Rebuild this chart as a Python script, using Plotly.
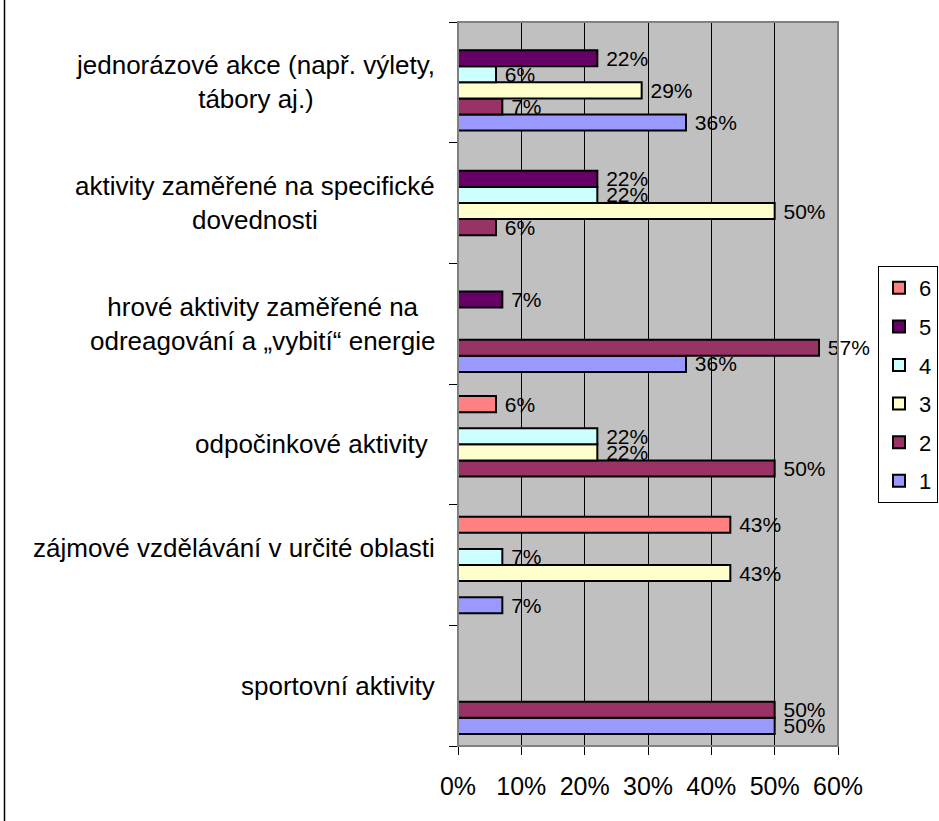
import plotly.graph_objects as go

categories = [
    "sportovní aktivity",
    "zájmové vzdělávání v určité oblasti",
    "odpočinkové aktivity",
    "hrové aktivity zaměřené na odreagování a „vybití“ energie",
    "aktivity zaměřené na specifické dovednosti",
    "jednorázové akce (např. výlety, tábory aj.)",
]
category_labels = [
    "sportovní aktivity",
    "zájmové vzdělávání v určité oblasti<br> ",
    "odpočinkové aktivity ",
    "hrové aktivity zaměřené na<br>odreagování a „vybití“ energie",
    "aktivity zaměřené na specifické<br>dovednosti",
    "jednorázové akce (např. výlety,<br>tábory aj.)",
]
series_names = ["1", "2", "3", "4", "5", "6"]
s1 = [50, 7, None, 36, None, 36]
s2 = [50, None, 50, 57, 6, 7]
s3 = [None, 43, 22, None, 50, 29]
s4 = [None, 7, 22, None, 22, 6]
s5 = [None, None, None, 7, 22, 22]
s6 = [None, 43, 6, None, None, None]
series_values = [s1, s2, s3, s4, s5, s6]
colors = ["#9999FF", "#993366", "#FFFFCC", "#CCFFFF", "#660066", "#FF8080"]
x_ticks = [0, 10, 20, 30, 40, 50, 60]

FONT = "Arial, Liberation Sans, sans-serif"

W, H = 939, 821
ML, MR, MT, MB = 458, 101, 22, 75
PW = W - ML - MR
PH = H - MT - MB

fig = go.Figure()
for i, (name, vals, col) in enumerate(zip(series_names, series_values, colors)):
    fig.add_trace(go.Bar(
        y=categories, x=vals, name=name, orientation="h",
        marker=dict(color=col, line=dict(color="black", width=2)),
        text=["\u00a0" + f"{v}%" if v is not None else "" for v in vals],
        textposition="outside",
        textfont=dict(family=FONT, size=21, color="black"),
        constraintext="none", cliponaxis=False,
        legendgroup=name, legendrank=100 - i,
    ))

annotations = []
for cat, lab in zip(categories, category_labels):
    annotations.append(dict(
        x=(437 - ML) / PW, xref="paper", y=cat, yref="y",
        text=lab, showarrow=False, xanchor="right", yanchor="middle",
        align="center", font=dict(family=FONT, size=26, color="black"),
    ))

shapes = [
    dict(type="rect", xref="paper", yref="paper", x0=0, x1=1, y0=0, y1=1,
         line=dict(color="#808080", width=2), layer="above"),
    dict(type="line", xref="paper", yref="paper",
         x0=(4.5 - ML) / PW, x1=(4.5 - ML) / PW,
         y0=(H - MB - H) / PH, y1=(H - MB) / PH,
         line=dict(color="black", width=1.5)),
]

fig.update_layout(
    width=W, height=H,
    margin=dict(l=ML, r=MR, t=MT, b=MB, pad=0, autoexpand=False),
    paper_bgcolor="white", plot_bgcolor="#C0C0C0",
    barmode="group", bargap=0.2, bargroupgap=0,
    font=dict(family=FONT, color="black"),
    showlegend=True,
    legend=dict(
        x=(878 - ML) / PW, xanchor="left",
        y=1 - (266 - MT) / PH, yanchor="top",
        traceorder="grouped", tracegroupgap=7,
        bgcolor="white", bordercolor="black", borderwidth=1,
        font=dict(family=FONT, size=22, color="black"),
    ),
    annotations=annotations,
    shapes=shapes,
)
fig.update_xaxes(
    range=[0, 60], tickvals=x_ticks, ticktext=[f"{v}%" for v in x_ticks],
    showgrid=True, gridcolor="black", gridwidth=1, zeroline=False,
    showline=True, linecolor="black", linewidth=1,
    ticks="outside", ticklen=8, tickcolor="black",
    tickfont=dict(family=FONT, size=25, color="black"),
    ticklabelstandoff=10,
)
fig.update_yaxes(
    type="category", categoryorder="array", categoryarray=categories,
    showticklabels=False, showgrid=False, zeroline=False,
    showline=True, linecolor="black", linewidth=1,
    ticks="outside", ticklen=8, tickcolor="black", tickson="boundaries",
)

fig.write_html("out.html")
